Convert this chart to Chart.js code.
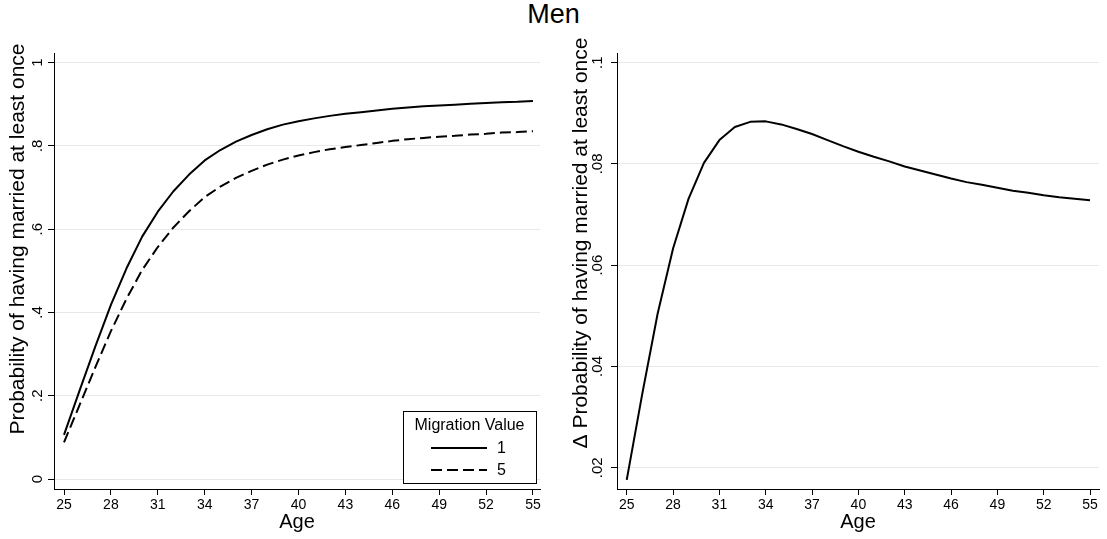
<!DOCTYPE html>
<html><head><meta charset="utf-8">
<script src="https://cdn.jsdelivr.net/npm/chart.js@4.4.1/dist/chart.umd.min.js"></script>
<style>
html,body{margin:0;padding:0;background:#fff;}
#wrap{position:relative;width:1107px;height:539px;overflow:hidden;background:#fff;}
#title{position:absolute;left:0;top:1px;width:1107px;text-align:center;font-family:"Liberation Sans",Arial,sans-serif;font-size:27px;line-height:27px;color:#000;}
canvas{position:absolute;top:0;}
</style></head><body>
<div id="wrap">
<div id="title">Men</div>
<canvas id="c1" width="553" height="539" style="left:0;width:553px;height:539px"></canvas>
<canvas id="c2" width="554" height="539" style="left:553px;width:554px;height:539px"></canvas>
</div>
<script>
const ages = [25,26,27,28,29,30,31,32,33,34,35,36,37,38,39,40,41,42,43,44,45,46,47,48,49,50,51,52,53,54,55];
const probMig1 = [0.106,0.213,0.318,0.418,0.506,0.582,0.642,0.691,0.731,0.765,0.790,0.810,0.826,0.840,0.851,0.859,0.866,0.872,0.877,0.881,0.885,0.889,0.892,0.895,0.897,0.899,0.901,0.903,0.905,0.906,0.908];
const probMig5 = [0.088,0.178,0.268,0.355,0.433,0.502,0.557,0.604,0.643,0.677,0.702,0.723,0.740,0.755,0.767,0.777,0.785,0.792,0.797,0.802,0.807,0.812,0.816,0.819,0.822,0.824,0.827,0.829,0.832,0.833,0.835];
const deltaProb = [0.0176,0.0345,0.0504,0.0633,0.0731,0.0802,0.0847,0.0873,0.0883,0.0884,0.0878,0.0869,0.0859,0.0847,0.0835,0.0824,0.0814,0.0805,0.0795,0.0787,0.0779,0.0771,0.0764,0.0759,0.0753,0.0747,0.0743,0.0738,0.0734,0.0731,0.0728];
const xTicks = [25,28,31,34,37,40,43,46,49,52,55];
const yTicksLeft = [0,0.2,0.4,0.6,0.8,1];
const yTicksRight = [0.02,0.04,0.06,0.08,0.1];
const seriesLabels = ['1','5'];
const legendTitle = 'Migration Value';
const xTitle = 'Age';
const yTitleLeft = 'Probability of having married at least once';
const yTitleRight = '\u0394 Probability of having married at least once';

const FONT = '"Liberation Sans", Arial, Helvetica, sans-serif';
Chart.defaults.font.family = FONT;
Chart.defaults.color = '#000';

function stataNum(v){
  const n = parseFloat(Number(v).toFixed(6));
  if (n === 0) return '0';
  return String(n).replace(/^0\./,'.');
}
function pts(ys){ return ages.map((a,i)=>({x:a,y:ys[i]})); }

const stataLegend = {
  id:'stataLegend',
  afterDraw(chart, args, opts){
    if (!opts || !opts.show) return;
    const ctx = chart.ctx, a = chart.chartArea;
    const w = 133, h = 72;
    const x = Math.round(a.right - 4 - w), y = Math.round(a.bottom - 6 - h);
    ctx.save();
    ctx.fillStyle = '#fff';
    ctx.fillRect(x, y, w, h);
    ctx.strokeStyle = '#000'; ctx.lineWidth = 1;
    ctx.strokeRect(x + 0.5, y + 0.5, w, h);
    ctx.fillStyle = '#000';
    ctx.font = '16px ' + FONT;
    ctx.textAlign = 'center'; ctx.textBaseline = 'middle';
    ctx.fillText(legendTitle, x + w/2, y + 15);
    chart.data.datasets.forEach((ds, i) => {
      const ly = y + 37 + i*22;
      ctx.beginPath();
      ctx.setLineDash(ds.borderDash || []);
      ctx.lineWidth = ds.borderWidth; ctx.strokeStyle = ds.borderColor;
      ctx.moveTo(x + 28, ly); ctx.lineTo(x + 84, ly); ctx.stroke();
      ctx.setLineDash([]);
      ctx.textAlign = 'left';
      ctx.fillText(ds.label, x + 94, ly + 1);
    });
    ctx.restore();
  }
};

// draws the y-axis title (text taken from the scale's title option) at a chosen spot
const yAxisTitle = {
  id:'yAxisTitle',
  afterDraw(chart, args, opts){
    const s = chart.scales.y;
    const t = s.options.title;
    const ctx = chart.ctx;
    ctx.save();
    ctx.fillStyle = '#000';
    ctx.font = opts.size + 'px ' + FONT;
    ctx.textAlign = 'center'; ctx.textBaseline = 'middle';
    ctx.translate(opts.cx, opts.cy);
    ctx.rotate(-Math.PI/2);
    ctx.fillText(t.text, 0, 0);
    ctx.restore();
  }
};

function makePanel(canvas, datasets, p){
  return new Chart(canvas, {
    type:'line',
    data:{datasets},
    plugins:[stataLegend, yAxisTitle],
    options:{
      responsive:false, animation:false, devicePixelRatio:1,
      layout:{padding:{top:53, right:p.padRight, bottom:0, left:0}},
      plugins:{legend:{display:false}, tooltip:{enabled:false}, stataLegend:{show:p.legend},
        yAxisTitle:{cx:p.titleX, cy:p.titleY, size:21}},
      elements:{line:{tension:0, borderJoinStyle:'round'}, point:{radius:0}},
      scales:{
        x:{type:'linear', min:p.xMin, max:p.xMax,
          afterBuildTicks:s=>{ s.ticks = xTicks.map(v=>({value:v})); },
          afterFit:s=>{ s.height = 50; },
          ticks:{autoSkip:false, minRotation:0, maxRotation:0, padding:2, font:{size:14}, color:'#000', callback:v=>String(v)},
          grid:{drawOnChartArea:false, drawTicks:true, tickLength:6, tickColor:'#000', tickWidth:1},
          border:{display:true, color:'#000', width:1},
          title:{display:true, text:xTitle, font:{size:20}, color:'#000', padding:{top:0,bottom:5}}
        },
        y:{type:'linear', min:p.yMin, max:p.yMax,
          afterBuildTicks:s=>{ s.ticks = p.yTicks.map(v=>({value:v})); },
          afterFit:s=>{ s.width = p.yWidth; },
          ticks:{autoSkip:false, minRotation:90, maxRotation:90, crossAlign:'center', padding:p.tickPad, font:{size:15}, color:'#000', callback:v=>stataNum(v)},
          grid:{color:'#e8e8e8', lineWidth:1, drawTicks:true, tickLength:6, tickColor:'#000', tickWidth:1},
          border:{display:true, color:'#000', width:1},
          title:{display:false, text:p.yTitle}
        }
      }
    }
  });
}

makePanel(document.getElementById('c1'), [
  {label:seriesLabels[0], data:pts(probMig1), borderColor:'#000', borderWidth:2, fill:false},
  {label:seriesLabels[1], data:pts(probMig5), borderColor:'#000', borderWidth:2, borderDash:[11,5], fill:false}
], {xMin:24.36, xMax:55.45, yMin:-0.024, yMax:1.023, yTicks:yTicksLeft, yWidth:54, padRight:13, tickPad:4, titleX:18, titleY:239, yTitle:yTitleLeft, legend:true});

makePanel(document.getElementById('c2'), [
  {label:'delta', data:pts(deltaProb), borderColor:'#000', borderWidth:2, fill:false}
], {xMin:24.37, xMax:55.58, yMin:0.0158, yMax:0.1019, yTicks:yTicksRight, yWidth:64, padRight:8, tickPad:3, titleX:28, titleY:243, yTitle:yTitleRight, legend:false});
</script>
</body></html>
